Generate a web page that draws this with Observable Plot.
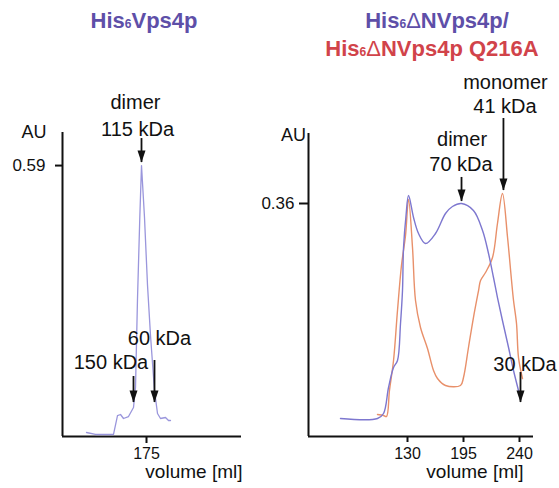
<!DOCTYPE html>
<html>
<head>
<meta charset="utf-8">
<script src="https://cdn.jsdelivr.net/npm/d3@7"></script>
<script src="https://cdn.jsdelivr.net/npm/@observablehq/plot@0.6"></script>
<style>
  html, body { margin: 0; padding: 0; background: #fff; }
  #wrap { position: relative; width: 559px; height: 488px; display: flex; font-family: 'Liberation Sans', Arial, Helvetica, sans-serif; }
  .panel { position: relative; height: 488px; }
  .head { position: relative; height: 70px; }
  .tline { position: absolute; transform: translateX(-50%); white-space: nowrap; font-weight: bold; font-size: 22px; line-height: 28px; }
  .sub { font-size: 0.55em; }
  .delta { font-weight: normal; }
</style>
</head>
<body>
<div id="wrap">
  <div class="panel" style="width:250px">
    <div class="head">
      <div class="tline" style="left:144px;top:7px;color:#5e4fa8">His<span class="sub">6</span>Vps4p</div>
    </div>
    <div id="left"></div>
  </div>
  <div class="panel" style="width:309px">
    <div class="head">
      <div class="tline" style="left:187px;top:7px;color:#5e4fa8">His<span class="sub">6</span><span class="delta">Δ</span>NVps4p/</div>
      <div class="tline" style="left:182px;top:35px;color:#d1434a">His<span class="sub">6</span><span class="delta">Δ</span>NVps4p Q216A</div>
    </div>
    <div id="right"></div>
  </div>
</div>
<script>
// ---------- Left panel: His6Vps4p ----------
const leftVolume = [115, 124, 142, 146, 149, 152, 157, 162, 164, 166, 168.3, 170, 173, 176, 179, 181, 183, 186, 189, 194, 197, 199];
const leftAU     = [0.0087, 0.0044, 0.0044, 0.0457, 0.0479, 0.0392, 0.0435, 0.0631, 0.1067, 0.30, 0.4768, 0.59, 0.4768, 0.33, 0.22, 0.16, 0.10, 0.0501, 0.0392, 0.0414, 0.0348, 0.0348];
const leftXDomain = [91, 270];
const leftYDomain = [0, 0.662];
const leftXTicks = [175];
const leftYTicks = [0.59];
const leftNoteText = ["dimer", "115 kDa", "60 kDa", "150 kDa"];
const leftNoteX    = [164, 166, 188, 139.5];
const leftNoteY    = [0.7272, 0.6684, 0.2134, 0.1611];
const leftArrowX   = [170, 162, 183];
const leftArrowY1  = [0.6488, 0.1306, 0.1655];
const leftArrowY2  = [0.5966, 0.0740, 0.0740];

// ---------- Right panel: His6ΔNVps4p / Q216A ----------
const rightXDomain = [15.2, 130, 195, 240, 251.25];
const rightYDomain = [-0.0301, 0.4772];
const rightXTicks = [130, 195, 240];
const rightYTicks = [0.36];
const wtVolume = [52.3, 95.2, 102.2, 108.0, 113.8, 118.4, 121.9, 124.2, 125.4, 128.3, 131.2, 137.0, 142.8, 150.9, 162.5, 174.1, 182.2, 192.7, 203.0, 210.3, 215.1, 219.1, 222.3, 226.3, 231.2, 235.2, 239.2];
const wtAU     = [0, 0, 0.0084, 0.0519, 0.0854, 0.0971, 0.1591, 0.2143, 0.2863, 0.3399, 0.3734, 0.3366, 0.3098, 0.2930, 0.3098, 0.3433, 0.3550, 0.3600, 0.3483, 0.3148, 0.2763, 0.2361, 0.2026, 0.1641, 0.1189, 0.0804, 0.0469];
const mutVolume = [95.2, 102.2, 105.6, 109.1, 113.8, 118.4, 123.0, 127.7, 131.2, 135.8, 139.3, 145.1, 153.2, 160.2, 164.8, 174.1, 191.5, 195.0, 199.0, 203.0, 207.1, 208.7, 212.7, 218.3, 222.3, 226.3, 230.4, 233.6, 235.2, 237.6, 239.2, 242.4];
const mutAU     = [0.0067, 0.0050, 0.0033, 0.0469, 0.0971, 0.1808, 0.2562, 0.3064, 0.3667, 0.2863, 0.1976, 0.1524, 0.1172, 0.0804, 0.0670, 0.0553, 0.0553, 0.0687, 0.1189, 0.1691, 0.2143, 0.2311, 0.2445, 0.2696, 0.3265, 0.3768, 0.3031, 0.2311, 0.1976, 0.1591, 0.1021, 0.0670];
const rightNoteText = ["monomer", "41 kDa", "dimer", "70 kDa", "30 kDa"];
const rightNoteX    = [228.7, 228.3, 193.3, 192.1, 244.4];
const rightNoteY    = [0.5626, 0.5224, 0.4672, 0.4253, 0.0904];
const rightArrowX   = [227.1, 192.7, 240.8];
const rightArrowY1  = [0.5023, 0.4036, 0.0770];
const rightArrowY2  = [0.3818, 0.3634, 0.0268];

// ---------- helpers ----------
const zip = (xs, ys) => xs.map((x, i) => ({x, y: ys[i]}));
const notes = (t, xs, ys) => t.map((s, i) => ({text: s, x: xs[i], y: ys[i]}));
const arrows = (xs, y1, y2) => xs.map((x, i) => ({x, y1: y1[i], y2: y2[i]}));
const arrowHead = {draw(ctx) { ctx.moveTo(0, 0); ctx.lineTo(-4, -12); ctx.lineTo(4, -12); ctx.closePath(); }};
const style = {fontFamily: "'Liberation Sans', Arial, Helvetica, sans-serif", fontSize: "17px", color: "#111", overflow: "visible", background: "none"};
const ink = "#111";
const fmt = d => String(d);

function arrowMarks(a) {
  return [
    Plot.ruleX(a, {x: "x", y1: "y1", y2: "y2", stroke: ink, strokeWidth: 1.8}),
    Plot.dot(a, {x: "x", y: "y2", symbol: arrowHead, fill: ink, stroke: null})
  ];
}

const left = Plot.plot({
  width: 250, height: 418,
  marginLeft: 62, marginRight: 9, marginTop: 62, marginBottom: 52,
  style,
  x: {domain: leftXDomain},
  y: {domain: leftYDomain},
  marks: [
    Plot.axisY(leftYTicks, {tickSize: 7, tickPadding: 10, strokeWidth: 2, label: null, fontSize: 17, fill: ink, tickFormat: fmt}),
    Plot.axisX(leftXTicks, {tickSize: 7, tickPadding: 4, strokeWidth: 2, label: null, fontSize: 16, fill: ink, tickFormat: fmt}),
    Plot.ruleX([leftXDomain[0]], {stroke: ink, strokeWidth: 2}),
    Plot.ruleY([leftYDomain[0]], {stroke: ink, strokeWidth: 2}),
    Plot.line(zip(leftVolume, leftAU), {x: "x", y: "y", stroke: "#9a96dc", strokeWidth: 1.3}),
    ...arrowMarks(arrows(leftArrowX, leftArrowY1, leftArrowY2)),
    Plot.text(notes(leftNoteText, leftNoteX, leftNoteY), {x: "x", y: "y", text: "text", fontSize: 20, fill: ink}),
    Plot.text(["AU"], {frameAnchor: "top-left", dx: -41, dy: -7, fontSize: 18, fill: ink}),
    Plot.text(["volume [ml]"], {frameAnchor: "bottom-right", textAnchor: "end", dx: 1, dy: 41, fontSize: 19, fill: ink})
  ]
});
document.getElementById("left").append(left);

const right = Plot.plot({
  width: 309, height: 418,
  marginLeft: 58, marginRight: 26, marginTop: 63, marginBottom: 52,
  style,
  x: {type: "linear", domain: rightXDomain, range: [58, 157, 213, 269, 283]},
  y: {domain: rightYDomain},
  marks: [
    Plot.axisY(rightYTicks, {tickSize: 9, tickPadding: 5, strokeWidth: 2, label: null, fontSize: 17, fill: ink, tickFormat: fmt}),
    Plot.axisX(rightXTicks, {tickSize: 6, tickPadding: 5, strokeWidth: 2, label: null, fontSize: 16, fill: ink, tickFormat: fmt}),
    Plot.ruleX([rightXDomain[0]], {stroke: ink, strokeWidth: 2}),
    Plot.ruleY([rightYDomain[0]], {stroke: ink, strokeWidth: 2}),
    Plot.line(zip(mutVolume, mutAU), {x: "x", y: "y", stroke: "#e8906a", strokeWidth: 1.4, curve: "catmull-rom"}),
    Plot.line(zip(wtVolume, wtAU), {x: "x", y: "y", stroke: "#7d77cf", strokeWidth: 1.4, curve: "catmull-rom"}),
    ...arrowMarks(arrows(rightArrowX, rightArrowY1, rightArrowY2)),
    Plot.text(notes(rightNoteText, rightNoteX, rightNoteY), {x: "x", y: "y", text: "text", fontSize: 20, fill: ink}),
    Plot.text(["AU"], {frameAnchor: "top-left", dx: -27.5, dy: -5, fontSize: 18, fill: ink}),
    Plot.text(["volume [ml]"], {frameAnchor: "bottom-right", textAnchor: "end", dx: -10, dy: 41, fontSize: 19, fill: ink})
  ]
});
document.getElementById("right").append(right);
</script>
</body>
</html>
